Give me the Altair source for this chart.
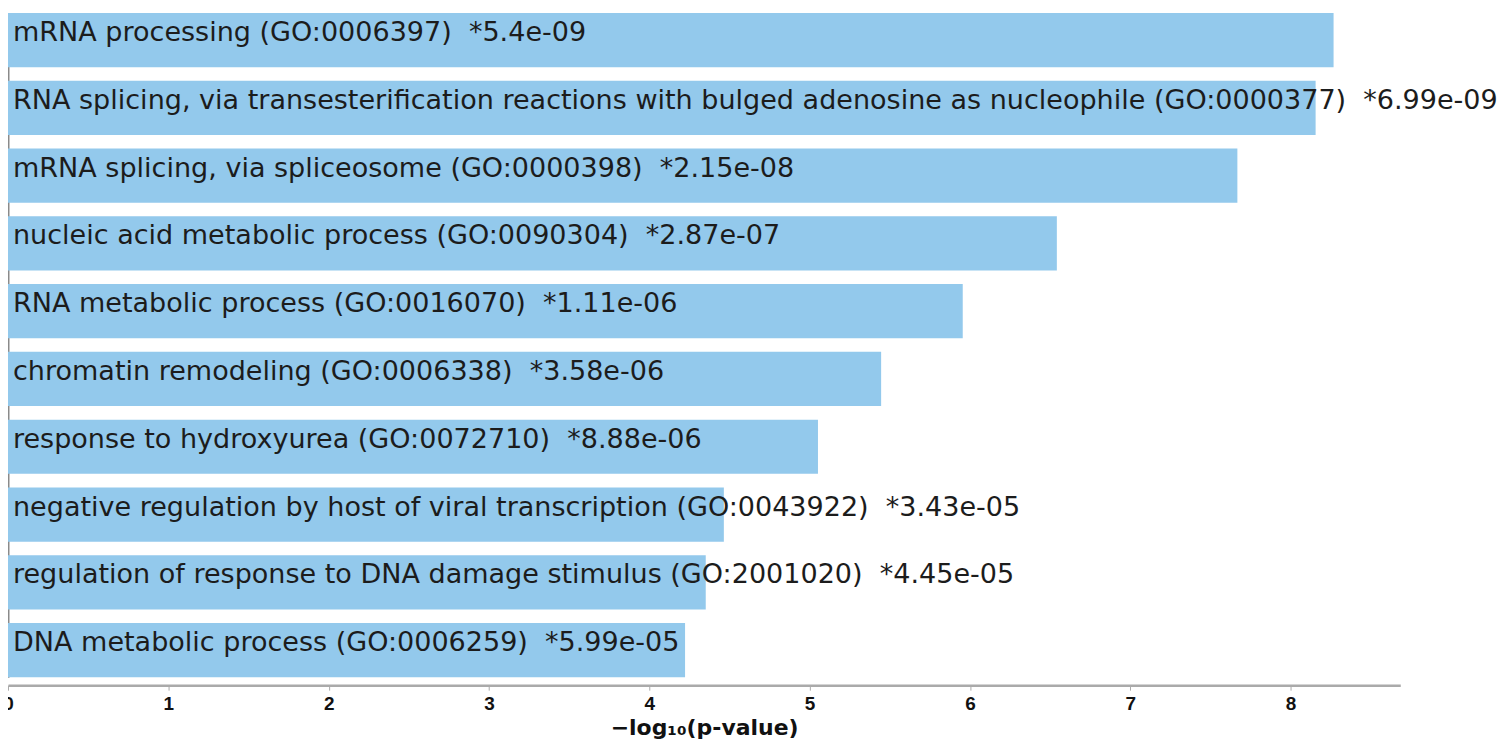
import altair as alt
import pandas as pd

terms = [
    "mRNA processing (GO:0006397)",
    "RNA splicing, via transesterification reactions with bulged adenosine as nucleophile (GO:0000377)",
    "mRNA splicing, via spliceosome (GO:0000398)",
    "nucleic acid metabolic process (GO:0090304)",
    "RNA metabolic process (GO:0016070)",
    "chromatin remodeling (GO:0006338)",
    "response to hydroxyurea (GO:0072710)",
    "negative regulation by host of viral transcription (GO:0043922)",
    "regulation of response to DNA damage stimulus (GO:2001020)",
    "DNA metabolic process (GO:0006259)",
]
pvalues = ["5.4e-09", "6.99e-09", "2.15e-08", "2.87e-07", "1.11e-06",
           "3.58e-06", "8.88e-06", "3.43e-05", "4.45e-05", "5.99e-05"]
neglog = [8.268, 8.156, 7.668, 6.542, 5.955, 5.446, 5.052, 4.465, 4.352, 4.223]

df = pd.DataFrame({
    "term": terms,
    "val": neglog,
    "label": [t + "\u00a0\u00a0*" + p for t, p in zip(terms, pvalues)],
})

y_enc = alt.Y("term:N", sort=terms,
              scale=alt.Scale(paddingInner=0.2, paddingOuter=0, range=[4, 670]),
              axis=alt.Axis(labels=False, ticks=False, title=None, domain=True,
                            domainColor="#8a8a8a", domainWidth=2))
x_enc = alt.X("val:Q", scale=alt.Scale(domain=[0, 8.684], nice=False, zero=True),
              axis=alt.Axis(values=list(range(9)), format="d", grid=False,
                            labelFlush=False,
                            title="−log₁₀(p-value)", titleFont="DejaVu Sans",
                            titleFontSize=22, titleFontWeight="bold", titleColor="#111",
                            titlePadding=4,
                            labelFont="Liberation Sans", labelFontSize=19,
                            labelFontWeight="bold", labelColor="#111", labelPadding=4,
                            domainColor="#aaaaaa", domainWidth=2.5,
                            tickColor="#aaaaaa", tickSize=5, tickWidth=1))

bars = alt.Chart(df).mark_bar(color="#93c9ec").encode(x=x_enc, y=y_enc)

texts = alt.Chart(df).mark_text(
    align="left", baseline="middle", dx=5, dy=-7, font="DejaVu Sans",
    fontSize=27.1, color="#1c1c1c"
).encode(x=alt.datum(0), y=alt.Y("term:N", sort=terms), text="label:N")

chart = alt.layer(bars, texts).properties(
    width=1396, height=678,
    autosize=alt.AutoSizeParams(type="none"),
    padding={"left": 0, "top": 0, "right": 100, "bottom": 56},
).configure_view(stroke=None)

chart.save("out.html", embed_options={"renderer": "svg", "actions": False})
